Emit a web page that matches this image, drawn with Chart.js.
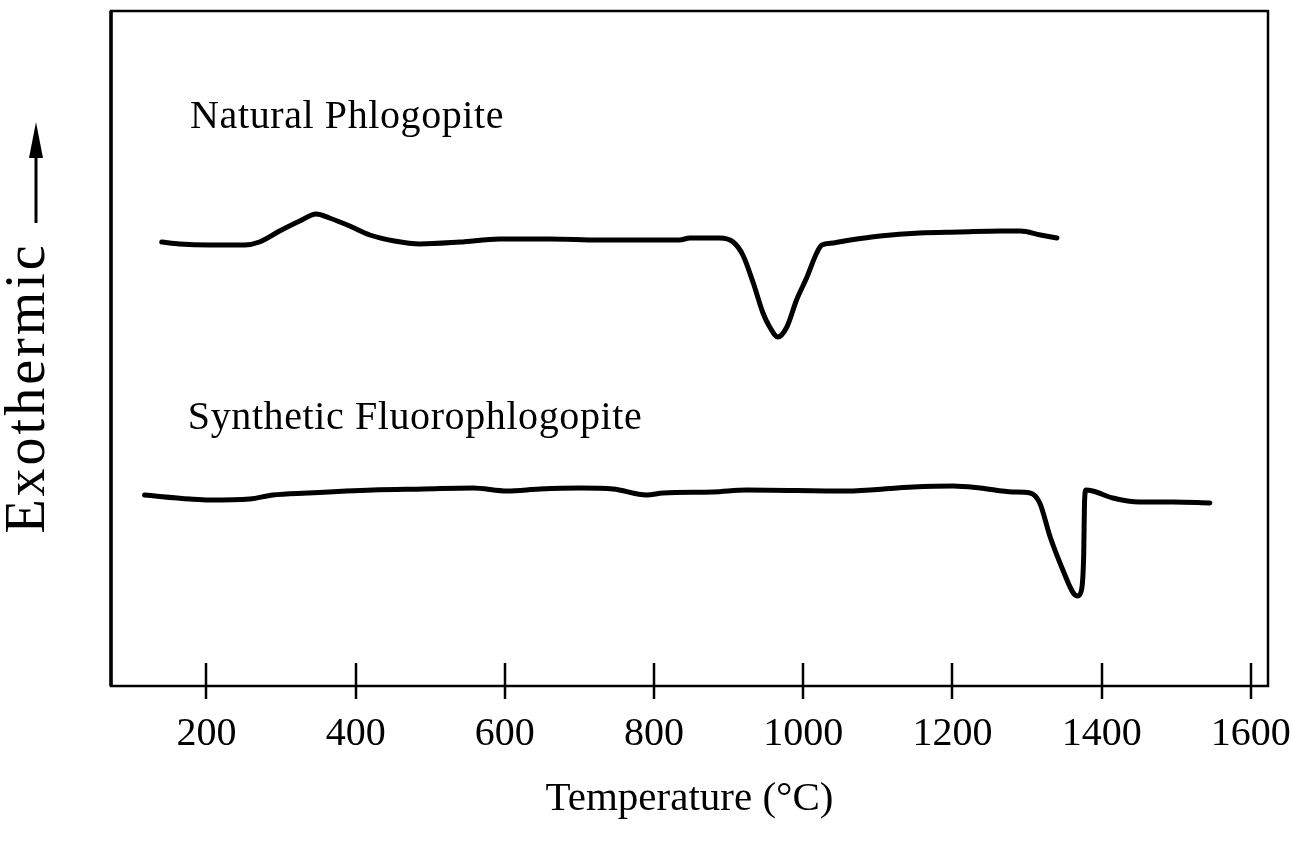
<!DOCTYPE html>
<html>
<head>
<meta charset="utf-8">
<title>DTA - Phlogopite</title>
<script src="https://cdn.jsdelivr.net/npm/chart.js@4.4.0/dist/chart.umd.min.js"></script>
<style>
  html, body { margin: 0; padding: 0; background: #fff; }
</style>
</head>
<body>
<canvas id="myChart" width="1292" height="846"></canvas>
<script>
'use strict'
// DTA traces, signal in arbitrary units (up = exothermic)
var natTemps = [140, 164, 204, 251, 271, 298, 325, 347, 365, 392, 419, 452, 486, 540, 593, 660, 727, 794, 834, 848, 888, 906, 919, 933, 946, 955, 966, 978, 991, 1005, 1018, 1025, 1040, 1063, 1103, 1156, 1210, 1264, 1291, 1318, 1340];
var natSignal = [444, 442, 441, 441, 444, 455, 465, 472, 468, 460, 451, 445, 442, 444, 447, 447, 446, 446, 446, 448, 448, 444, 431, 403, 373, 359, 349, 359, 386, 409, 433, 441, 443, 446, 450, 453, 454, 455, 455, 451, 448];

var synTemps = [117, 178, 204, 258, 289, 335, 423, 491, 557, 603, 647, 701, 745, 790, 812, 879, 924, 1058, 1126, 1147, 1201, 1237, 1281, 1304, 1317, 1331, 1348, 1362, 1368, 1373, 1376, 1377, 1379, 1388, 1415, 1451, 1496, 1545];
var synSignal = [191, 187, 186, 187, 191, 193, 196, 197, 198, 195, 197, 198, 197, 191, 193, 194, 196, 195, 198, 199, 200, 198, 194, 193, 183, 149, 116, 93, 90, 96, 133, 183, 196, 195, 188, 184, 184, 183];

var tickTemps = [200, 400, 600, 800, 1000, 1200, 1400, 1600];

// curve captions, placed in data units
var curveNames = ['Natural Phlogopite', 'Synthetic Fluorophlogopite'];
var nameTemps = [178, 175];
var nameLevels = [558, 257];

var xTitle = 'Temperature (°C)';
var yTitle = 'Exothermic';

var serif = "'Liberation Serif', 'Times New Roman', serif";

function toPoints(xs, ys) {
    var pts = [];
    for (var i = 0; i < xs.length; i++) {
        pts.push({ x: xs[i], y: ys[i] });
    }
    return pts;
}

// box, cross ticks, captions and the y label with its arrow
var framePlugin = {
    id: 'frame',
    afterDraw: function (chart) {
        var ctx = chart.ctx;
        var area = chart.chartArea;
        var xs = chart.scales.x;
        var ys = chart.scales.y;

        ctx.save();
        ctx.strokeStyle = '#000';
        ctx.lineWidth = 2.5;
        ctx.strokeRect(area.left, area.top, area.right - area.left, area.bottom - area.top);
        // left side is drawn a bit heavier
        ctx.lineWidth = 3.5;
        ctx.beginPath();
        ctx.moveTo(area.left, area.top);
        ctx.lineTo(area.left, area.bottom);
        ctx.stroke();

        ctx.lineWidth = 2.5;
        ctx.beginPath();
        for (var i = 0; i < tickTemps.length; i++) {
            var px = Math.round(xs.getPixelForValue(tickTemps[i]));
            ctx.moveTo(px, area.bottom - 23);
            ctx.lineTo(px, area.bottom + 13);
        }
        ctx.stroke();

        ctx.fillStyle = '#000';
        ctx.font = '40px ' + serif;
        ctx.letterSpacing = '0.6px';
        ctx.textAlign = 'left';
        ctx.textBaseline = 'alphabetic';
        for (var j = 0; j < curveNames.length; j++) {
            ctx.fillText(curveNames[j], xs.getPixelForValue(nameTemps[j]), ys.getPixelForValue(nameLevels[j]));
        }

        // rotated y label
        ctx.save();
        ctx.translate(44, 388);
        ctx.rotate(-Math.PI / 2);
        ctx.font = '56px ' + serif;
        ctx.letterSpacing = '3px';
        ctx.textAlign = 'center';
        ctx.fillText(yTitle, 0, 0);
        ctx.restore();

        // arrow pointing up
        ctx.letterSpacing = '0px';
        ctx.lineWidth = 3;
        ctx.beginPath();
        ctx.moveTo(36, 223);
        ctx.lineTo(36, 150);
        ctx.stroke();
        ctx.beginPath();
        ctx.moveTo(36, 122);
        ctx.lineTo(43, 158);
        ctx.lineTo(29, 158);
        ctx.closePath();
        ctx.fill();
        ctx.restore();
    }
};

var lineStyle = {
    borderColor: '#000',
    borderWidth: 5,
    pointRadius: 0,
    fill: false,
    cubicInterpolationMode: 'monotone',
    borderCapStyle: 'round',
    borderJoinStyle: 'round'
};

var ctx = document.getElementById('myChart').getContext('2d');
var chart = new Chart(ctx, {
    type: 'line',
    data: {
        datasets: [
            Object.assign({ label: curveNames[0], data: toPoints(natTemps, natSignal) }, lineStyle),
            Object.assign({ label: curveNames[1], data: toPoints(synTemps, synSignal) }, lineStyle)
        ]
    },
    options: {
        responsive: false,
        animation: false,
        layout: { padding: { left: 111, right: 24, top: 11, bottom: 0 } },
        plugins: {
            legend: { display: false },
            tooltip: { enabled: false }
        },
        scales: {
            x: {
                type: 'linear',
                min: 72,
                max: 1623,
                afterBuildTicks: function (scale) {
                    scale.ticks = tickTemps.map(function (v) { return { value: v }; });
                },
                afterFit: function (scale) {
                    scale.height = 160;
                    scale.paddingLeft = 0;
                    scale.paddingRight = 0;
                },
                grid: { display: false, drawTicks: false },
                border: { display: false },
                ticks: {
                    color: '#000',
                    font: { family: serif, size: 40 },
                    padding: 24,
                    maxRotation: 0,
                    autoSkip: false,
                    callback: function (value) { return String(value); }
                },
                title: {
                    display: true,
                    text: xTitle,
                    color: '#000',
                    font: { family: serif, size: 41, lineHeight: 1.2 },
                    padding: { top: 0, bottom: 22 }
                }
            },
            y: {
                display: false,
                min: 0,
                max: 675
            }
        }
    },
    plugins: [framePlugin]
});
</script>
</body>
</html>
